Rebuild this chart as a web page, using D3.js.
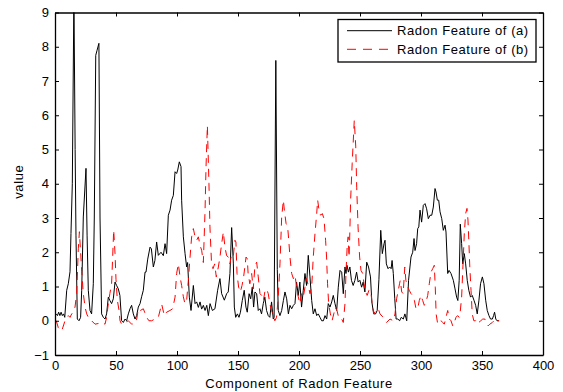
<!DOCTYPE html>
<html>
<head>
<meta charset="utf-8">
<script src="https://cdn.jsdelivr.net/npm/d3@7"></script>
<style>
  html, body { margin: 0; padding: 0; background: #fff; }
  svg { display: block; }
  text { font-family: "Liberation Sans", Arial, sans-serif; fill: #000; }
</style>
</head>
<body>
<svg id="chart" width="563" height="392"></svg>
<script>
// ---- Data ----
const xTicks = [0, 50, 100, 150, 200, 250, 300, 350, 400];
const yTicks = [-1, 0, 1, 2, 3, 4, 5, 6, 7, 8, 9];
const seriesNames = ["Radon Feature of (a)", "Radon Feature of (b)"];
const xLabel = "Component of Radon Feature";
const yLabel = "value";

const aX = [1,2,3,4,5,6,7,8,9.6,10.9,12.3,13.1,14.2,15.5,16.5,17.2,18.3,19.7,21,21.9,23.2,25.4,26.3,27.3,28.7,30,31.4,32.2,33.4,34.5,36,36.9,38.2,39.6,41,42.3,43.7,45,46.4,47.8,49.2,50.5,51.9,53.2,54.6,56,57.4,58.7,60.1,61.5,62.8,64.2,65.6,66.9,68.3,69.7,71,72.4,73.8,74.6,76,77.9,79,80.6,81.9,83.3,84.7,86.9,88.8,90.2,91.5,92.9,94.3,95.6,97,98.4,99.7,100.6,101.9,103.3,103.8,105.2,106.6,107.9,108.7,110.1,111.5,113.4,114.8,116.1,117.5,118.9,120.2,121.6,123,124.4,125.7,127.1,129,131.1,133.3,135.2,136.6,138.8,140.7,142,143.4,144.8,146.2,147,148.1,149.5,150.8,152,153.5,155.1,156.5,157.6,159.1,160.4,161.7,162.8,163.9,165.3,166.6,168,169.3,170.7,172,173.4,174.8,176.1,177.5,178.9,179.6,181,182.2,183,184.4,185.8,187.2,188.5,189.9,191.3,192.6,194,195.4,196.7,198,199.4,200.7,202.1,203.5,204.9,206.2,207.6,209,210.4,211.7,213.1,214.5,215.8,217.2,218.6,220,221.3,222.7,224,225.4,226.8,228.1,229.5,230.9,232.2,233.6,235,236.3,237.7,238.5,239.3,240.5,241.7,243,244.4,245.8,247.2,248.5,249.9,251.3,252.6,254,255.5,257,258.6,259.7,261.2,262.8,264.1,265.5,267,268.3,269.7,270.5,271.6,273,274.3,275.5,276.3,277.3,278.5,279.6,281,282.5,283.8,285.5,286.8,288.3,289.8,291.8,293.2,294.3,295.1,296.4,297.3,298.2,299.2,300.5,301.9,303.3,304.6,306,307.4,308.8,310.1,311.5,312.3,313.4,314.5,315.6,317,318.3,319.7,320.5,321.9,323,324.6,326.5,327.9,329.2,330.2,331.3,332.2,333.3,334.2,335.5,336.6,337.9,339.2,340.6,342,343.4,344.8,346.1,347.5,348.8,350.3,351.6,353,354.3,355.7,357,358.5,359.5,360.3,361.3,362.3,364];
const aY = [0.2,0.15,0.25,0.15,0.25,0.15,0.2,0.1,0.89,1.08,1.43,2.55,4.0,9.5,5,2.5,0.05,0.0,0.1,0.89,3.03,4.45,2.5,0.89,0.3,0.2,1.08,3.0,7.75,7.9,8.1,3.0,0.2,0.1,0.05,0.2,0.69,0.59,0.5,0.64,1.13,1.03,0.93,0.74,0.0,-0.05,0.05,0.0,0.2,0.35,0.45,0.2,0.05,0.15,0.4,0.5,0.7,0.89,1.42,1.42,1.8,2.15,2.1,1.57,1.76,2.3,1.91,2.0,1.9,2.25,1.96,3.08,3.23,3.52,3.66,4.35,4.3,4.4,4.64,4.5,3.52,2.45,1.96,1.57,1.7,0.69,0.3,1.03,0.5,0.55,0.39,0.55,0.34,0.45,0.3,0.45,0.15,0.5,0.3,0.35,0.89,1.23,0.79,0.6,0.79,0.84,1.38,2.72,1.66,0.4,0.1,0.2,0.1,0.25,0.59,0.89,0.4,0.25,0.79,0.64,0.98,0.4,0.84,0.79,0.3,0.35,0.2,0.5,0.69,0.3,0.15,0.1,0.55,0.05,0.1,7.6,1.5,0.3,0.15,0.3,0.59,0.84,0.64,0.2,0.45,0.35,0.45,0.5,1.13,0.74,1.13,0.4,0.89,1.38,1.03,1.91,1.28,0.59,0.2,0.35,0.15,0.2,0.1,0.0,0.0,0.15,0.05,0.5,0.4,0.55,0.74,0.5,0.3,0.98,1.47,1.42,0.79,1.57,1.38,1.62,1.42,1.57,1.18,1.03,1.18,1.42,1.13,1.18,0.98,1.13,0.84,1.71,1.57,1.28,0.55,0.2,0.2,0.3,1.2,2.64,1.96,2.25,2.35,1.66,1.52,1.57,1.52,1.76,1.38,0.64,0.05,0.05,0.0,0.1,0.05,0.2,0.0,1.18,1.86,2.0,2.4,2.05,2.25,2.69,2.74,3.23,2.88,3.37,3.42,3.27,2.98,3.08,3.08,3.32,3.86,3.76,3.52,3.52,3.18,2.98,2.64,2.79,2.59,1.38,1.47,1.38,1.18,0.93,0.69,0.59,1.18,2.82,2.25,1.66,1.96,1.66,1.18,0.89,0.69,0.74,0.6,0.45,0.2,0.6,1.08,1.28,1.08,0.6,0.3,0.15,0.05,0.05,0.15,0.25,0.05,0.0,0.0];

const bX = [1,2.7,5.5,8.2,10.9,12.3,13.7,15,16.4,17.8,19.1,20,21,21.9,23.2,24.6,26,27.3,30,32.8,35.5,38.3,41,42.3,43.7,45,46.4,47.2,48.1,49.2,50,51.1,52.5,53.3,54.6,57.4,60.1,62.8,65.6,67,68.3,70,72.4,75.1,77,79.2,81.9,84.7,87.4,89.6,91.5,94.3,96.4,98.4,99.7,101.1,102.5,103.8,105.2,106.5,107.9,109.3,110.7,112,113.4,114.8,116.1,117.5,118.9,120.2,121.6,123,123.8,124.9,126.2,127,128.2,129.5,130.9,132.2,133.9,135.2,136.6,138,139.3,140.7,142.1,143.4,144.8,146.2,147.5,148.3,149.2,150.5,151.9,153.3,154.6,156.6,157.6,158.3,159.7,161.2,162.5,163.9,165.3,166.6,168,169.4,170.8,172,173.4,174.8,176.1,177.5,178.9,180.2,181.6,183,184.4,185.8,187.2,188,189.4,190.7,191.6,192.6,194,195.4,196.7,198,199.4,200.7,202.1,203.5,204.9,206.2,207.6,209,210.4,211.7,213.1,214.5,215.3,216.4,217.7,219.1,220.5,221.8,222.6,223.4,224.3,225.7,227.1,228.5,229.8,231.1,232.5,233.6,235,236.3,237.7,238.5,239.6,240.3,241,241.5,242.3,243.6,245.3,246.5,247.3,248.4,249.7,250.8,252.2,253.3,254.6,255.9,257.3,258.7,260,261.4,262.8,265,266.4,269,271.8,274.6,277.3,278.7,280,281.4,282.4,283,284.2,285.4,286.7,287.6,289.1,290.4,291.8,293.2,294.6,295.9,297.3,298.6,300,301.4,302.7,304.1,305.5,306.8,308.2,309.6,310.9,311.7,312.4,313.7,315,316.4,317.8,319.1,320.5,321.9,323.2,324.6,326,327.3,328.7,330,331.3,332,333.3,334.7,335.5,336.6,337.7,338.5,339.3,340,341,342,343.3,344.6,346,347.3,349,350.6,352.3,353.7,355,356.4,358.5,359.8,361,362.3,364];
const bY = [0.0,-0.2,-0.3,0.0,0.15,0.1,0.2,0.25,0.4,0.8,2.1,2.6,2.0,1.43,0.8,0.4,0.2,0.1,0.0,-0.1,-0.08,-0.05,-0.1,0.1,0.5,0.8,1.08,1.8,2.65,1.96,1.2,0.6,0.3,0.0,-0.1,-0.05,0.0,-0.1,-0.08,0.05,0.35,0.3,0.35,0.1,0.0,0.0,0.05,0.1,0.49,0.15,0.25,0.3,0.35,0.69,1.38,1.66,1.28,1.03,0.7,0.5,0.59,1.18,1.86,2.45,2.69,2.45,2.35,2.45,2.2,2.06,1.7,3.23,4.5,5.7,4.0,2.74,1.76,1.52,1.66,1.28,1.57,1.86,2.25,2.59,2.15,1.9,1.86,1.66,1.96,1.9,2.35,2.3,1.38,0.98,0.84,1.03,1.28,1.86,1.81,1.38,1.08,1.38,0.93,1.62,1.71,1.28,0.79,0.74,0.59,0.84,0.93,0.79,0.5,0.3,0.15,0.0,0.1,0.69,1.66,3.03,3.52,3.23,2.84,2.74,2.35,1.86,1.38,1.23,1.33,1.0,0.7,0.5,0.79,0.69,0.98,1.23,1.03,0.79,0.98,1.86,2.54,3.13,3.52,3.23,3.08,3.13,2.98,2.35,1.86,1.08,0.5,0.2,0.0,0.2,0.39,0.3,0.1,0.05,0.05,-0.05,0.5,1.38,2.25,2.45,1.86,2.35,3.52,4.6,5.85,5.1,3.9,2.74,1.86,1.47,1.38,1.08,0.84,0.74,0.89,0.89,0.49,0.2,0.3,0.35,0.2,0.1,-0.05,0.05,0.0,0.2,0.64,0.89,1.08,1.18,0.84,0.79,1.57,1.18,0.98,0.89,0.79,0.74,0.59,0.35,0.35,0.59,0.74,0.59,0.45,0.55,0.74,1.08,1.42,1.52,1.62,0.98,0.2,-0.1,-0.05,0.0,-0.05,-0.1,0.1,0.3,0.05,0.0,-0.15,-0.05,0.1,0.15,0.1,0.2,0.69,1.86,2.55,3.13,3.28,2.94,2.25,1.57,0.89,0.2,0.0,0.0,0.05,-0.05,0.0,0.05,0.05,-0.1,-0.15,-0.1,-0.05,0.0,0.05,0.0,0.0];

// ---- Layout ----
const L = 55, R = 543, T = 12.5, B = 355;
const svg = d3.select("#chart");
const x = d3.scaleLinear().domain([0, 400]).range([L, R]);
const y = d3.scaleLinear().domain([-1, 9]).range([B, T]);

svg.append("defs").append("clipPath").attr("id", "clip")
  .append("rect").attr("x", L).attr("y", T).attr("width", R - L).attr("height", B - T);

const line = d3.line().x(d => x(d[0])).y(d => y(d[1]));
const aData = aX.map((v, i) => [v, aY[i]]);
const bData = bX.map((v, i) => [v, bY[i]]);

const g = svg.append("g").attr("clip-path", "url(#clip)");
g.append("path").datum(aData).attr("d", line)
  .attr("fill", "none").attr("stroke", "#000").attr("stroke-width", 1);
g.append("path").datum(bData).attr("d", line)
  .attr("fill", "none").attr("stroke", "#ff0000").attr("stroke-width", 1)
  .attr("stroke-dasharray", "8,6");

// ---- Axes (MATLAB style: inward ticks, box) ----
const tickLen = 4;
const fs = 13;
const axB = svg.append("g").attr("transform", `translate(0,${B})`)
  .call(d3.axisBottom(x).tickValues(xTicks).tickSizeInner(-tickLen).tickSizeOuter(0).tickPadding(6));
const axT = svg.append("g").attr("transform", `translate(0,${T})`)
  .call(d3.axisTop(x).tickValues(xTicks).tickSizeInner(-tickLen).tickSizeOuter(0).tickFormat(""));
const axL = svg.append("g").attr("transform", `translate(${L},0)`)
  .call(d3.axisLeft(y).tickValues(yTicks).tickSizeInner(-tickLen).tickSizeOuter(0).tickPadding(6));
const axR = svg.append("g").attr("transform", `translate(${R},0)`)
  .call(d3.axisRight(y).tickValues(yTicks).tickSizeInner(-tickLen).tickSizeOuter(0).tickFormat(""));

[axB, axT, axL, axR].forEach(a => {
  a.select(".domain").attr("stroke", "#000").attr("stroke-width", 1.3);
  a.selectAll(".tick line").attr("stroke", "#000").attr("stroke-width", 1);
  a.selectAll("text").attr("font-family", "Liberation Sans, Arial, sans-serif")
    .attr("font-size", fs).attr("fill", "#000");
});

// ---- Axis labels ----
svg.append("text").attr("x", (L + R) / 2).attr("y", 387.5)
  .attr("text-anchor", "middle").attr("font-size", fs).style("letter-spacing", "0.6px")
  .text(xLabel);
svg.append("text")
  .attr("transform", `translate(23,${(T + B) / 2 - 2}) rotate(-90)`)
  .attr("text-anchor", "middle").attr("font-size", fs).style("letter-spacing", "0.6px")
  .text(yLabel);

// ---- Legend ----
const lg = svg.append("g");
lg.append("rect").attr("x", 338).attr("y", 19.5).attr("width", 198).attr("height", 42.5)
  .attr("fill", "#fff").attr("stroke", "#000").attr("stroke-width", 1.3);
const legY = [30.7, 49.3];
const legStyle = [{ c: "#000", d: null }, { c: "#ff0000", d: "9,7" }];
seriesNames.forEach((name, i) => {
  const ln = lg.append("line").attr("x1", 347).attr("x2", 392)
    .attr("y1", legY[i]).attr("y2", legY[i])
    .attr("stroke", legStyle[i].c).attr("stroke-width", 1);
  if (legStyle[i].d) ln.attr("stroke-dasharray", legStyle[i].d);
  lg.append("text").attr("x", 397).attr("y", legY[i] + 4.3)
    .attr("font-size", fs).style("letter-spacing", "0.55px").text(name);
});
</script>
</body>
</html>
